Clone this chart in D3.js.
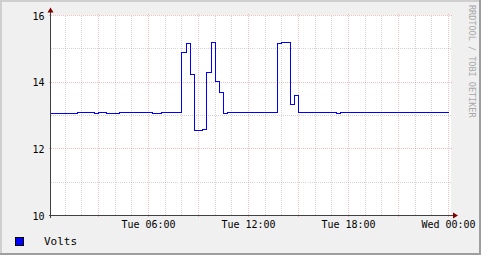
<!DOCTYPE html>
<html>
<head>
<meta charset="utf-8">
<script src="https://cdn.jsdelivr.net/npm/d3@7"></script>
<style>
  html, body { margin: 0; padding: 0; background: #f0f0f0; }
  svg { display: block; }
  text { font-family: "DejaVu Sans Mono", monospace; }
</style>
</head>
<body>
<script>

var w = 481;
var h = 255;

// hours after Tue 00:00 where the value changes (step data)
var hours = [0.15, 1.75, 2.75, 3.0, 3.5, 4.25, 6.25, 6.75, 8.0, 8.25, 8.5, 8.75, 9.25, 9.5,
             9.75, 10.0, 10.25, 10.5, 10.75, 13.75, 14.0, 14.5, 14.75, 15.0, 17.25, 17.5, 24.0];
var volts = [13.05, 13.08, 13.05, 13.08, 13.05, 13.08, 13.05, 13.08, 14.9, 15.15, 14.23, 12.55, 12.59, 14.28,
             15.18, 14.01, 13.68, 13.05, 13.09, 15.15, 15.18, 13.32, 13.59, 13.08, 13.05, 13.08, 13.08];
var yTicks = [10, 12, 14, 16];
var seriesName = "Volts";

var t0 = Date.UTC(2024, 0, 2);   // a Tuesday
var data = hours.map(function(hr, i) {
    return { t: new Date(t0 + hr * 3600000), v: volts[i] };
});

var svg = d3.select("body")
        .append("svg")
        .attr("width", w)
        .attr("height", h);

// frame / shading
svg.append("rect").attr("width", w).attr("height", h).attr("fill", "#f0f0f0");
svg.append("path").attr("d", "M0,1H480M1,0V254").attr("stroke", "#cfcfcf").attr("stroke-width", 2);
svg.append("path").attr("d", "M0,254H481M480,0V255").attr("stroke", "#9e9e9e").attr("stroke-width", 2);

var pLeft = 50.5, pRight = 451, pTop = 15.5, pBottom = 215.5;

var x = d3.scaleUtc()
        .domain([new Date(t0), new Date(t0 + 24 * 3600000)])
        .range([48.5, 448.5]);

var y = d3.scaleLinear()
        .domain([10, 16])
        .range([pBottom, pTop]);

svg.append("rect")
    .attr("x", pLeft).attr("y", pTop - 0.5)
    .attr("width", pRight - pLeft).attr("height", pBottom - pTop)
    .attr("fill", "#ffffff");

var grid = svg.append("g").attr("shape-rendering", "crispEdges");
var majorColor = "rgba(222,48,48,0.3)";
var minorColor = "rgba(143,143,143,0.38)";

// vertical grid, every hour; every 3 hours is major
x.ticks(d3.utcHour.every(1)).forEach(function(d) {
    var px = x(d);
    if (px <= pLeft) return;
    var major = d.getUTCHours() % 3 === 0;
    grid.append("line")
        .attr("x1", px).attr("x2", px)
        .attr("y1", major ? pTop - 2 : pTop).attr("y2", major ? pBottom + 2 : pBottom)
        .attr("stroke", major ? majorColor : minorColor)
        .attr("stroke-dasharray", "1,1");
});

// horizontal grid, every volt; even values are major
d3.range(10, 17).forEach(function(v) {
    var major = v % 2 === 0;
    grid.append("line")
        .attr("x1", major ? pLeft - 2 : pLeft).attr("x2", pRight + 1)
        .attr("y1", y(v)).attr("y2", y(v))
        .attr("stroke", major ? majorColor : minorColor)
        .attr("stroke-dasharray", "1,1");
});

// data line
var line = d3.line()
        .x(function(d) { return x(d.t); })
        .y(function(d) { return y(d.v); })
        .curve(d3.curveStepAfter);

svg.append("path")
    .datum(data)
    .attr("d", line)
    .attr("fill", "none")
    .attr("stroke", "#0000ff")
    .attr("stroke-width", 1)
    .attr("shape-rendering", "crispEdges");

// axes
var axis = svg.append("g").attr("shape-rendering", "crispEdges");
axis.append("line").attr("x1", pLeft).attr("x2", pLeft).attr("y1", pBottom + 2).attr("y2", 10)
    .attr("stroke", "#404040");
axis.append("line").attr("x1", pLeft - 2).attr("x2", 454).attr("y1", pBottom).attr("y2", pBottom)
    .attr("stroke", "#404040");
svg.append("path").attr("d", "M47.5,12.5L50.5,7.5L53.5,12.5Z").attr("fill", "#7f0000");
svg.append("path").attr("d", "M453,212.5L458,215.5L453,218.5Z").attr("fill", "#7f0000");

// y labels
svg.selectAll("text.ylab")
    .data(yTicks)
    .enter()
    .append("text")
    .attr("class", "ylab")
    .attr("x", 44.5)
    .attr("y", function(d) { return y(d) + 4; })
    .attr("text-anchor", "end")
    .attr("font-size", "10px")
    .attr("fill", "#000")
    .text(function(d) { return d; });

// x labels every 6 hours
var fmt = d3.utcFormat("%a %H:%M");
svg.selectAll("text.xlab")
    .data(x.ticks(d3.utcHour.every(6)).filter(function(d) { return x(d) > pLeft; }))
    .enter()
    .append("text")
    .attr("class", "xlab")
    .attr("x", function(d) { return x(d); })
    .attr("y", 228)
    .attr("text-anchor", "middle")
    .attr("font-size", "10px")
    .attr("fill", "#000")
    .text(function(d) { return fmt(d); });

// legend
svg.append("rect")
    .attr("x", 15.5).attr("y", 237.5).attr("width", 8).attr("height", 8)
    .attr("fill", "#0000ff").attr("stroke", "#000")
    .attr("shape-rendering", "crispEdges");
svg.append("text")
    .attr("x", 44).attr("y", 245)
    .attr("font-size", "11px")
    .attr("fill", "#000")
    .text(seriesName);

// watermark
svg.append("text")
    .attr("transform", "translate(469,5) rotate(90)")
    .attr("font-size", "8.5px")
    .attr("fill", "#a8a8a8")
    .text("RRDTOOL / TOBI OETIKER");

</script>
</body>
</html>
